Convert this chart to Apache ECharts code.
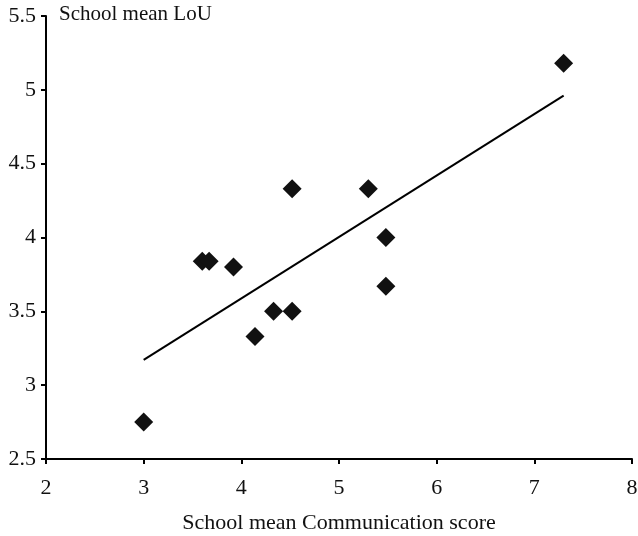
<!DOCTYPE html>
<html>
<head>
<meta charset="utf-8">
<script src="https://cdn.jsdelivr.net/npm/echarts@6/dist/echarts.min.js"></script>
<style>
  html, body { margin: 0; padding: 0; background: #fff; }
  #chart { width: 638px; height: 536px; }
</style>
</head>
<body>
<div id="chart"></div>
<script>
// School mean Communication score (x) vs school mean LoU (y)
const commScores = [3.0, 3.6, 3.67, 3.92, 4.14, 4.33, 4.52, 4.52, 5.3, 5.48, 5.48, 7.3];
const louMeans   = [2.75, 3.84, 3.84, 3.8, 3.33, 3.5, 3.5, 4.33, 4.33, 4.0, 3.67, 5.18];
const xTicks = [2, 3, 4, 5, 6, 7, 8];
const yTicks = [2.5, 3, 3.5, 4, 4.5, 5, 5.5];

// Least-squares trend line over the observed range
const n = commScores.length;
const mx = commScores.reduce((a, b) => a + b, 0) / n;
const my = louMeans.reduce((a, b) => a + b, 0) / n;
let sxy = 0, sxx = 0;
for (let i = 0; i < n; i++) {
  sxy += (commScores[i] - mx) * (louMeans[i] - my);
  sxx += (commScores[i] - mx) ** 2;
}
const slope = sxy / sxx;
const icpt = my - slope * mx;
const xMin = Math.min(...commScores), xMax = Math.max(...commScores);
const trend = [[xMin, icpt + slope * xMin], [xMax, icpt + slope * xMax]];

const font = 'Liberation Serif, Times New Roman, serif';
const fs = 22;
const chart = echarts.init(document.getElementById('chart'));
chart.setOption({
  animation: false,
  backgroundColor: '#fff',
  grid: { left: 46, right: 6, top: 16, bottom: 77, containLabel: false, outerBoundsMode: 'none' },
  xAxis: {
    type: 'value', min: xTicks[0], max: xTicks[xTicks.length - 1], interval: 1,
    name: 'School mean Communication score',
    nameLocation: 'middle', nameGap: 53,
    nameTextStyle: { fontFamily: font, fontSize: fs, color: '#111', verticalAlign: 'top' },
    axisLine: { show: true, onZero: false, lineStyle: { color: '#000', width: 2 } },
    axisTick: { show: true, length: 5, lineStyle: { color: '#000', width: 2 } },
    axisLabel: { fontFamily: font, fontSize: fs, color: '#111', margin: 18 },
    splitLine: { show: false }
  },
  yAxis: {
    type: 'value', min: yTicks[0], max: yTicks[yTicks.length - 1], interval: 0.5,
    axisLine: { show: true, onZero: false, lineStyle: { color: '#000', width: 2 } },
    axisTick: { show: true, length: 5, lineStyle: { color: '#000', width: 2 } },
    axisLabel: { fontFamily: font, fontSize: fs, color: '#111', margin: 10,
      formatter: v => String(v) },
    splitLine: { show: false }
  },
  graphic: [{
    type: 'text', left: 59, top: 4,
    style: { text: 'School mean LoU', fontFamily: font, fontSize: 21, fill: '#111' }
  }],
  series: [
    {
      type: 'line', data: trend, symbol: 'none', silent: true,
      lineStyle: { color: '#000', width: 2 }
    },
    {
      type: 'scatter',
      data: commScores.map((x, i) => [x, louMeans[i]]),
      symbol: 'diamond', symbolSize: [19, 19],
      itemStyle: { color: '#111', opacity: 1 }
    }
  ]
});
</script>
</body>
</html>
